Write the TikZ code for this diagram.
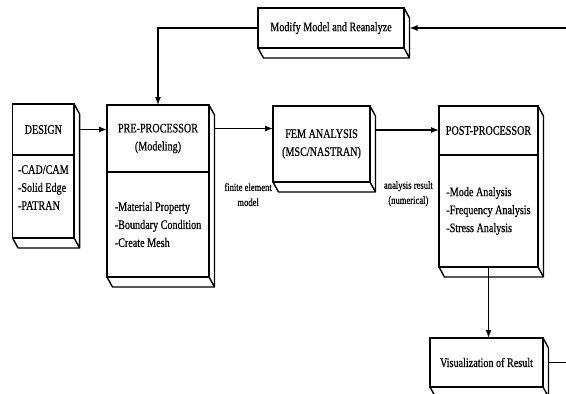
\documentclass[tikz,border=0pt]{standalone}
\usepackage{fontspec}
\setmainfont{Liberation Serif}[FakeStretch=0.78,FakeBold=0.6]
\usetikzlibrary{positioning,arrows.meta}

\tikzset{
  slab/.style={draw, line width=1.4pt, outer sep=0pt, inner sep=2pt, align=center},
  items/.style={slab, align=left},
  note/.style={font=\fontsize{11}{15}\selectfont, align=center, inner sep=0pt},
  face/.style={line width=1.4pt, line join=round},
  flow/.style={->, line width=1.2pt},
}

\begin{document}
\begin{tikzpicture}[x=1pt, y=-1pt, font=\fontsize{13}{18}\selectfont,
    >={Latex[length=8pt,width=6pt]}]
    \useasboundingbox (0,0) rectangle (566,394);
    \def\dx{5.5}
    \def\dy{10}

    % the boxes
    \node [slab, anchor=north west, minimum width=61.5pt, minimum height=51pt] (designT) at (12.6,104) {DESIGN};
    \node [items, below=0pt of designT, minimum width=61.5pt, minimum height=83pt] (designB) {-CAD/CAM\\-Solid Edge\\-PATRAN\\\mbox{}};

    \node [slab, anchor=north west, minimum width=102pt, minimum height=67pt] (preT) at (107,105) {PRE-PROCESSOR\\(Modeling)};
    \node [items, below=0pt of preT, minimum width=102pt, minimum height=105pt] (preB) {-Material Property\\-Boundary Condition\\-Create Mesh};

    \node [slab, anchor=north west, minimum width=97pt, minimum height=76pt] (fem) at (273,106) {FEM ANALYSIS\\(MSC/NASTRAN)};

    \node [slab, anchor=north west, minimum width=99pt, minimum height=49pt] (postT) at (439,106) {POST-PROCESSOR};
    \node [items, below=0pt of postT, minimum width=99pt, minimum height=112pt] (postB) {-Mode Analysis\\-Frequency Analysis\\-Stress Analysis};

    \node [slab, anchor=north west, minimum width=146pt, minimum height=40pt] (modify) at (258,8) {Modify Model and Reanalyze};
    \node [slab, anchor=north west, minimum width=113pt, minimum height=49pt] (vis) at (430,338) {Visualization of Result};

    % depth faces
    \foreach \hi/\lo in {designT/designB, preT/preB, fem/fem, postT/postB, modify/modify, vis/vis}
      \draw [face] (\hi.north east) -- ++(\dx,\dy) -- ([shift={(\dx,\dy)}]\lo.south east)
        -- ([shift={(\dx,\dy)}]\lo.south west) -- (\lo.south west)
        (\lo.south east) -- ++(\dx,\dy);

    % flow
    \draw [flow] (designT.east) ++(\dx,0) -- (designT.east -| preT.west);
    \draw [flow] (preT.east) ++(\dx,-10) coordinate (p) -- (p -| fem.west);
    \draw [flow] (fem.east) ++(\dx,-14) coordinate (q) -- (q -| postT.west);
    \draw [flow] (postB.south) -- (postB.south |- vis.north);
    \draw [flow] (vis.east) ++(\dx,0) -- ++(40,0) |- ([xshift=\dx]modify.east);
    \draw [flow] (modify.west) -| (preT.north);

    \node [note, below left=1pt and 1pt of fem.south west] (femnote) {finite element\\model};
    \node [note, below left=26pt and 6pt of postT.south west] (postnote) {analysis result\\(numerical)};
\end{tikzpicture}
\end{document}
